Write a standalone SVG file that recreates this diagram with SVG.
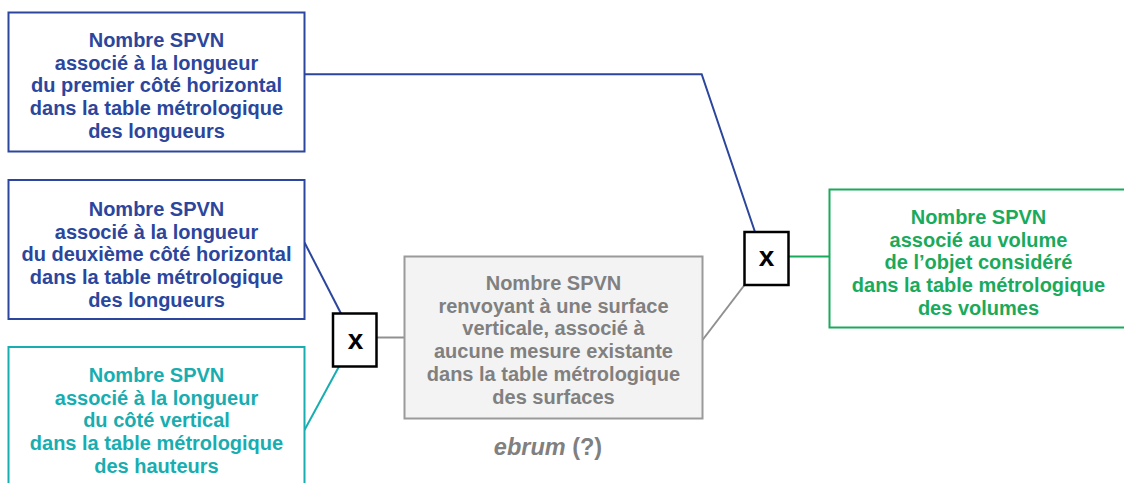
<svg xmlns="http://www.w3.org/2000/svg" width="1124" height="483" viewBox="0 0 1124 483">
<style>
  text { font-family: "Liberation Sans", Arial, sans-serif; font-weight: bold; font-size: 20px; text-anchor: middle; }
  .box { stroke-width: 2; }
  .blue { fill: #2b469c; }
  .teal { fill: #18adb0; }
  .green { fill: #1aaa5c; }
  .gray { fill: #808080; }
  .xbox { fill: #ffffff; stroke: #000000; stroke-width: 2.5; }
  .xt { font-size: 28px; fill: #000000; }
  .lbl { font-size: 23.5px; }
  .conn { fill: none; stroke-width: 2; }
</style>
<rect width="1124" height="483" fill="#ffffff"/>
<g id="connectors">
  <polyline class="conn" stroke="#2b469c" points="304.5,74.3 701.7,74.3 755,232"/>
  <line class="conn" stroke="#2b469c" x1="304.5" y1="242.5" x2="341" y2="313.5"/>
  <line class="conn" stroke="#18adb0" x1="304.5" y1="430" x2="339" y2="366.5"/>
  <line class="conn" stroke="#909090" x1="376.5" y1="337.5" x2="404.5" y2="337.5"/>
  <line class="conn" stroke="#909090" x1="702.5" y1="340" x2="744.5" y2="285"/>
  <line class="conn" stroke="#1aaa5c" x1="788.5" y1="256.5" x2="829.5" y2="256.5"/>
</g>
<g id="n1">
  <rect class="box" x="8.5" y="12.5" width="296" height="139" fill="#ffffff" stroke="#2b469c"/>
  <text class="blue"><tspan x="156.5" y="47">Nombre SPVN</tspan><tspan x="156.5" y="69.7">associé à la longueur</tspan><tspan x="156.5" y="92.4">du premier côté horizontal</tspan><tspan x="156.5" y="115.1">dans la table métrologique</tspan><tspan x="156.5" y="137.8">des longueurs</tspan></text>
</g>
<g id="n2">
  <rect class="box" x="8.5" y="180" width="296" height="139" fill="#ffffff" stroke="#2b469c"/>
  <text class="blue"><tspan x="156.5" y="216">Nombre SPVN</tspan><tspan x="156.5" y="238.7">associé à la longueur</tspan><tspan x="156.5" y="261.4">du deuxième côté horizontal</tspan><tspan x="156.5" y="284.1">dans la table métrologique</tspan><tspan x="156.5" y="306.8">des longueurs</tspan></text>
</g>
<g id="n3">
  <rect class="box" x="8.5" y="347" width="296" height="139" fill="#ffffff" stroke="#18adb0"/>
  <text class="teal"><tspan x="156.5" y="382">Nombre SPVN</tspan><tspan x="156.5" y="404.7">associé à la longueur</tspan><tspan x="156.5" y="427.4">du côté vertical</tspan><tspan x="156.5" y="450.1">dans la table métrologique</tspan><tspan x="156.5" y="472.8">des hauteurs</tspan></text>
</g>
<g id="x1">
  <rect class="xbox" x="333" y="313.5" width="43.5" height="53"/>
  <text class="xt" x="355.5" y="348.5">x</text>
</g>
<g id="n4">
  <rect class="box" x="404.5" y="256.5" width="298" height="162" fill="#f3f3f3" stroke="#9a9a9a"/>
  <text class="gray"><tspan x="553.5" y="290">Nombre SPVN</tspan><tspan x="553.5" y="312.7">renvoyant à une surface</tspan><tspan x="553.5" y="335.4">verticale, associé à</tspan><tspan x="553.5" y="358.1">aucune mesure existante</tspan><tspan x="553.5" y="380.8">dans la table métrologique</tspan><tspan x="553.5" y="403.5">des surfaces</tspan></text>
</g>
<g id="label">
  <text class="gray lbl" x="548" y="455"><tspan font-style="italic">ebrum</tspan> (?)</text>
</g>
<g id="x2">
  <rect class="xbox" x="744.5" y="232" width="44" height="53"/>
  <text class="xt" x="766.5" y="266">x</text>
</g>
<g id="n5">
  <rect class="box" x="829.5" y="189.5" width="298" height="138" fill="#ffffff" stroke="#1aaa5c"/>
  <text class="green"><tspan x="978.5" y="224">Nombre SPVN</tspan><tspan x="978.5" y="246.7">associé au volume</tspan><tspan x="978.5" y="269.4">de l’objet considéré</tspan><tspan x="978.5" y="292.1">dans la table métrologique</tspan><tspan x="978.5" y="314.8">des volumes</tspan></text>
</g>
</svg>
